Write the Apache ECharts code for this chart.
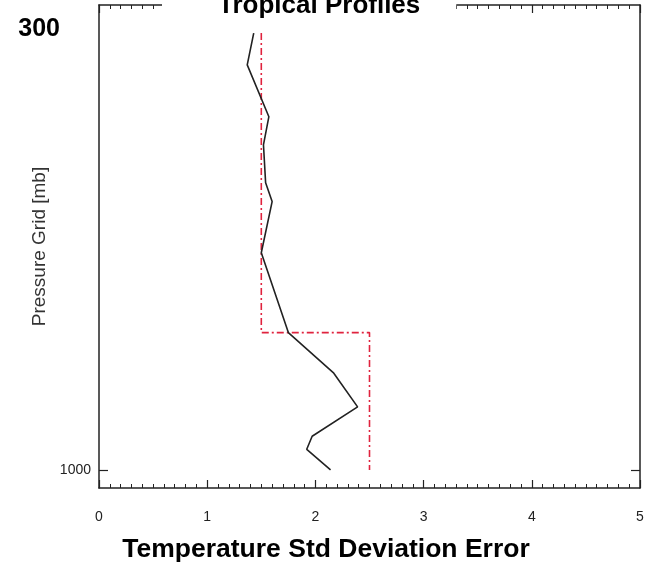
<!DOCTYPE html>
<html><head><meta charset="utf-8">
<script src="https://cdn.jsdelivr.net/npm/echarts@6/dist/echarts.min.js"></script>
<style>html,body{margin:0;padding:0;background:#fff}#c{width:646px;height:572px}</style>
</head><body><div id="c"></div>
<script>
// Data
const profilePressure = [300, 351, 434, 479, 540, 570, 652, 780, 845, 899, 946, 967, 1000];
const profileError    = [1.43, 1.37, 1.57, 1.52, 1.54, 1.60, 1.50, 1.75, 2.17, 2.39, 1.97, 1.92, 2.14];
const thresholdPressure = [300, 780, 780, 1000];
const thresholdError    = [1.5, 1.5, 2.5, 2.5];
const xTickLabels = ['0', '1', '2', '3', '4', '5'];
const yLabelValues = [300, 1000];
const yTickValues = [1000];
const titleText = 'Tropical Profiles';
const xTitle = 'Temperature Std Deviation Error';
const yTitle = 'Pressure Grid [mb]';

const profile = profileError.map((v, i) => [v, profilePressure[i]]);
const threshold = thresholdError.map((v, i) => [v, thresholdPressure[i]]);

const axisColor = '#222';
const font = 'Liberation Sans, Arial, sans-serif';

const xCommon = {
  type: 'value', min: 0, max: 5, interval: 1,
  axisLine: { show: true, onZero: false, lineStyle: { color: axisColor, width: 1.5 } },
  axisTick: { show: true, inside: true, length: 8, lineStyle: { color: axisColor, width: 1.2 } },
  minorTick: { show: true, splitNumber: 10, length: 4, lineStyle: { color: axisColor, width: 1 } },
  splitLine: { show: false }
};

const chart = echarts.init(document.getElementById('c'), null, { renderer: 'canvas' });
chart.setOption({
  animation: false,
  backgroundColor: '#fff',
  title: [
    { text: titleText, left: 162, top: -7, textAlign: 'left',
      backgroundColor: '#fff', padding: [0, 36, 0, 56],
      textStyle: { fontFamily: font, fontSize: 26, fontWeight: 'bold', color: '#000' } },
    { text: xTitle, left: 321, top: 531, textAlign: 'center',
      textStyle: { fontFamily: font, fontSize: 26.5, fontWeight: 'bold', color: '#000' } }
  ],
  grid: { left: 99, right: 6, top: 5, bottom: 84, containLabel: false, outerBoundsMode: 'none' },
  xAxis: [
    Object.assign({}, xCommon, { position: 'bottom',
      axisLabel: { show: true, margin: 22, color: '#222', fontFamily: font, fontSize: 14,
        formatter: v => xTickLabels[Math.round(v)] } }),
    Object.assign({}, xCommon, { position: 'top', axisLabel: { show: false } })
  ],
  yAxis: [
    { type: 'value', inverse: true, min: 255, max: 1029, position: 'left',
      name: yTitle, nameLocation: 'middle', nameGap: 50, nameMoveOverlap: false,
      nameTextStyle: { fontFamily: font, fontSize: 19, color: '#333' },
      axisLine: { show: true, onZero: false, lineStyle: { color: axisColor, width: 1.5 } },
      axisTick: { show: true, inside: true, length: 9, customValues: yTickValues, lineStyle: { color: axisColor, width: 1.2 } },
      axisLabel: { show: true, customValues: yLabelValues, margin: 8, color: '#222', fontFamily: font, fontSize: 14,
        formatter: v => v === 300 ? '{b|300}' : String(v),
        rich: { b: { fontFamily: font, fontSize: 25, fontWeight: 'bold', color: '#000', padding: [0, 31, 8, 0] } } },
      splitLine: { show: false } },
    { type: 'value', inverse: true, min: 255, max: 1029, position: 'right',
      axisLine: { show: true, onZero: false, lineStyle: { color: axisColor, width: 1.5 } },
      axisTick: { show: true, inside: true, length: 9, customValues: yTickValues, lineStyle: { color: axisColor, width: 1.2 } },
      axisLabel: { show: false },
      splitLine: { show: false } }
  ],
  series: [
    { type: 'line', data: threshold, xAxisIndex: 0, yAxisIndex: 0, symbol: 'none',
      lineStyle: { color: '#e0233e', width: 1.6, type: [7, 3, 2, 3] } },
    { type: 'line', data: profile, xAxisIndex: 0, yAxisIndex: 0, symbol: 'none',
      lineStyle: { color: '#222', width: 1.6 } }
  ]
});
</script>
</body></html>
